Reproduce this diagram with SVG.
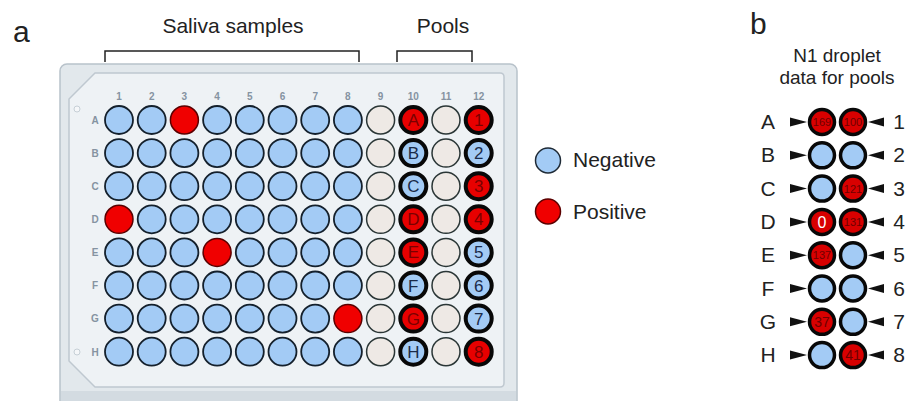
<svg xmlns="http://www.w3.org/2000/svg" width="909" height="401" viewBox="0 0 909 401">
<defs>
<style>
text{font-family:"Liberation Sans",Arial,sans-serif;}
.t{font-size:21px;fill:#222;}
.lab{font-size:10px;fill:#8593a1;font-weight:bold;text-anchor:middle;}
.n{fill:#a3cbf5;stroke:#14202c;stroke-width:1.8;}
.p{fill:#f00000;stroke:#5a0000;stroke-width:1.5;}
.e{fill:#eee9e5;stroke:#2a3636;stroke-width:1.5;}
.pr{fill:#e80000;stroke:#080808;stroke-width:4;}
.pb{fill:#a3cbf5;stroke:#080808;stroke-width:4;}
.wl{font-size:17px;text-anchor:middle;}
.wr{fill:#7a0000;}
.wb{fill:#1a2a48;}
.br{fill:none;stroke:#222;stroke-width:1.5;}
.bc{stroke:#080808;stroke-width:3.5;}
.bR{fill:#d80000;}
.bB{fill:#a3cbf5;}
.bn{font-size:11px;fill:#6e0000;text-anchor:middle;}
.ar{fill:#111;}
</style>
</defs>
<rect width="909" height="401" fill="#ffffff"/>
<!-- labels -->
<text class="t" x="13" y="42" style="font-size:30px">a</text>
<text class="t" x="233" y="33" text-anchor="middle">Saliva samples</text>
<text class="t" x="443" y="33" text-anchor="middle">Pools</text>
<path class="br" d="M105,62 V51 H359 V62"/>
<path class="br" d="M397,62 V51 H472 V62"/>
<!-- plate -->
<g id="plate">
<rect x="60" y="64" width="457" height="345" rx="7" fill="#e2e8ec" stroke="#b8c2ca" stroke-width="1.5"/>
<rect x="61" y="391" width="455" height="12" fill="#d3dbe1"/>
<path d="M95,73 H500 Q504,73 504,77 V383 Q504,387 500,387 H95 L69,361 V99 Z" fill="#eef2f5" stroke="#bfc8d0" stroke-width="1.5"/>
<circle cx="77" cy="109" r="3" fill="#f5f7f9" stroke="#c6cfd6"/>
<circle cx="77" cy="352" r="3" fill="#f5f7f9" stroke="#c6cfd6"/>
<g class="lab">
<text x="119" y="100">1</text><text x="151.7" y="100">2</text><text x="184.4" y="100">3</text><text x="217.1" y="100">4</text><text x="249.8" y="100">5</text><text x="282.5" y="100">6</text><text x="315.2" y="100">7</text><text x="347.9" y="100">8</text><text x="380.6" y="100">9</text><text x="413.3" y="100">10</text><text x="446" y="100">11</text><text x="478.7" y="100">12</text>
<text x="95" y="124">A</text><text x="95" y="157">B</text><text x="95" y="190">C</text><text x="95" y="223">D</text><text x="95" y="256">E</text><text x="95" y="289">F</text><text x="95" y="322">G</text><text x="95" y="356">H</text>
</g>
</g>
<g id="rowA">
<circle class="n" cx="119" cy="120" r="14"/><circle class="n" cx="151.7" cy="120" r="14"/><circle class="p" cx="184.4" cy="120" r="14"/><circle class="n" cx="217.1" cy="120" r="14"/><circle class="n" cx="249.8" cy="120" r="14"/><circle class="n" cx="282.5" cy="120" r="14"/><circle class="n" cx="315.2" cy="120" r="14"/><circle class="n" cx="347.9" cy="120" r="14"/><circle class="e" cx="380.6" cy="120" r="14"/><circle class="pr" cx="413.3" cy="120" r="13"/><circle class="e" cx="446" cy="120" r="14"/><circle class="pr" cx="478.7" cy="120" r="13"/>
<text class="wl wr" x="413.3" y="126">A</text><text class="wl wr" x="478.7" y="126">1</text>
</g>
<g id="rowB">
<circle class="n" cx="119" cy="153.1" r="14"/><circle class="n" cx="151.7" cy="153.1" r="14"/><circle class="n" cx="184.4" cy="153.1" r="14"/><circle class="n" cx="217.1" cy="153.1" r="14"/><circle class="n" cx="249.8" cy="153.1" r="14"/><circle class="n" cx="282.5" cy="153.1" r="14"/><circle class="n" cx="315.2" cy="153.1" r="14"/><circle class="n" cx="347.9" cy="153.1" r="14"/><circle class="e" cx="380.6" cy="153.1" r="14"/><circle class="pb" cx="413.3" cy="153.1" r="13"/><circle class="e" cx="446" cy="153.1" r="14"/><circle class="pb" cx="478.7" cy="153.1" r="13"/>
<text class="wl wb" x="413.3" y="159">B</text><text class="wl wb" x="478.7" y="159">2</text>
</g>
<g id="rowC">
<circle class="n" cx="119" cy="186.2" r="14"/><circle class="n" cx="151.7" cy="186.2" r="14"/><circle class="n" cx="184.4" cy="186.2" r="14"/><circle class="n" cx="217.1" cy="186.2" r="14"/><circle class="n" cx="249.8" cy="186.2" r="14"/><circle class="n" cx="282.5" cy="186.2" r="14"/><circle class="n" cx="315.2" cy="186.2" r="14"/><circle class="n" cx="347.9" cy="186.2" r="14"/><circle class="e" cx="380.6" cy="186.2" r="14"/><circle class="pb" cx="413.3" cy="186.2" r="13"/><circle class="e" cx="446" cy="186.2" r="14"/><circle class="pr" cx="478.7" cy="186.2" r="13"/>
<text class="wl wb" x="413.3" y="192">C</text><text class="wl wr" x="478.7" y="192">3</text>
</g>
<g id="rowD">
<circle class="p" cx="119" cy="219.3" r="14"/><circle class="n" cx="151.7" cy="219.3" r="14"/><circle class="n" cx="184.4" cy="219.3" r="14"/><circle class="n" cx="217.1" cy="219.3" r="14"/><circle class="n" cx="249.8" cy="219.3" r="14"/><circle class="n" cx="282.5" cy="219.3" r="14"/><circle class="n" cx="315.2" cy="219.3" r="14"/><circle class="n" cx="347.9" cy="219.3" r="14"/><circle class="e" cx="380.6" cy="219.3" r="14"/><circle class="pr" cx="413.3" cy="219.3" r="13"/><circle class="e" cx="446" cy="219.3" r="14"/><circle class="pr" cx="478.7" cy="219.3" r="13"/>
<text class="wl wr" x="413.3" y="225">D</text><text class="wl wr" x="478.7" y="225">4</text>
</g>
<g id="rowE">
<circle class="n" cx="119" cy="252.4" r="14"/><circle class="n" cx="151.7" cy="252.4" r="14"/><circle class="n" cx="184.4" cy="252.4" r="14"/><circle class="p" cx="217.1" cy="252.4" r="14"/><circle class="n" cx="249.8" cy="252.4" r="14"/><circle class="n" cx="282.5" cy="252.4" r="14"/><circle class="n" cx="315.2" cy="252.4" r="14"/><circle class="n" cx="347.9" cy="252.4" r="14"/><circle class="e" cx="380.6" cy="252.4" r="14"/><circle class="pr" cx="413.3" cy="252.4" r="13"/><circle class="e" cx="446" cy="252.4" r="14"/><circle class="pb" cx="478.7" cy="252.4" r="13"/>
<text class="wl wr" x="413.3" y="258">E</text><text class="wl wb" x="478.7" y="258">5</text>
</g>
<g id="rowF">
<circle class="n" cx="119" cy="285.5" r="14"/><circle class="n" cx="151.7" cy="285.5" r="14"/><circle class="n" cx="184.4" cy="285.5" r="14"/><circle class="n" cx="217.1" cy="285.5" r="14"/><circle class="n" cx="249.8" cy="285.5" r="14"/><circle class="n" cx="282.5" cy="285.5" r="14"/><circle class="n" cx="315.2" cy="285.5" r="14"/><circle class="n" cx="347.9" cy="285.5" r="14"/><circle class="e" cx="380.6" cy="285.5" r="14"/><circle class="pb" cx="413.3" cy="285.5" r="13"/><circle class="e" cx="446" cy="285.5" r="14"/><circle class="pb" cx="478.7" cy="285.5" r="13"/>
<text class="wl wb" x="413.3" y="291.5">F</text><text class="wl wb" x="478.7" y="291.5">6</text>
</g>
<g id="rowG">
<circle class="n" cx="119" cy="318.6" r="14"/><circle class="n" cx="151.7" cy="318.6" r="14"/><circle class="n" cx="184.4" cy="318.6" r="14"/><circle class="n" cx="217.1" cy="318.6" r="14"/><circle class="n" cx="249.8" cy="318.6" r="14"/><circle class="n" cx="282.5" cy="318.6" r="14"/><circle class="n" cx="315.2" cy="318.6" r="14"/><circle class="p" cx="347.9" cy="318.6" r="14"/><circle class="e" cx="380.6" cy="318.6" r="14"/><circle class="pr" cx="413.3" cy="318.6" r="13"/><circle class="e" cx="446" cy="318.6" r="14"/><circle class="pb" cx="478.7" cy="318.6" r="13"/>
<text class="wl wr" x="413.3" y="324.6">G</text><text class="wl wb" x="478.7" y="324.6">7</text>
</g>
<g id="rowH">
<circle class="n" cx="119" cy="351.7" r="14"/><circle class="n" cx="151.7" cy="351.7" r="14"/><circle class="n" cx="184.4" cy="351.7" r="14"/><circle class="n" cx="217.1" cy="351.7" r="14"/><circle class="n" cx="249.8" cy="351.7" r="14"/><circle class="n" cx="282.5" cy="351.7" r="14"/><circle class="n" cx="315.2" cy="351.7" r="14"/><circle class="n" cx="347.9" cy="351.7" r="14"/><circle class="e" cx="380.6" cy="351.7" r="14"/><circle class="pb" cx="413.3" cy="351.7" r="13"/><circle class="e" cx="446" cy="351.7" r="14"/><circle class="pr" cx="478.7" cy="351.7" r="13"/>
<text class="wl wb" x="413.3" y="357.7">H</text><text class="wl wr" x="478.7" y="357.7">8</text>
</g>
<!-- legend -->
<g id="legend-negative">
<circle cx="548" cy="160.5" r="12.5" fill="#a3cbf5" stroke="#1e2a36" stroke-width="1.5"/>
<text class="t" x="573" y="167">Negative</text>
</g>
<g id="legend-positive">
<circle cx="548" cy="211.5" r="12.5" fill="#f00000" stroke="#5a0000" stroke-width="1.5"/>
<text class="t" x="573" y="218.5">Positive</text>
</g>
<!-- panel b -->
<text class="t" x="750" y="34" style="font-size:30px">b</text>
<text class="t" x="837" y="62" text-anchor="middle" style="font-size:19px">N1 droplet</text>
<text class="t" x="837" y="84" text-anchor="middle" style="font-size:19px">data for pools</text>
<g id="b-labels" class="t" text-anchor="middle">
<text x="768" y="129">A</text><text x="768" y="162.3">B</text><text x="768" y="195.6">C</text><text x="768" y="228.9">D</text><text x="768" y="262.2">E</text><text x="768" y="295.5">F</text><text x="768" y="328.8">G</text><text x="768" y="362.1">H</text>
<text x="899" y="129">1</text><text x="899" y="162.3">2</text><text x="899" y="195.6">3</text><text x="899" y="228.9">4</text><text x="899" y="262.2">5</text><text x="899" y="295.5">6</text><text x="899" y="328.8">7</text><text x="899" y="362.1">8</text>
</g>
<g id="connectors" class="ar">
<polygon points="790,117.5 807,122 790,126.5"/><polygon points="790,150.8 807,155.3 790,159.8"/><polygon points="790,184.1 807,188.6 790,193.1"/><polygon points="790,217.4 807,221.9 790,226.4"/><polygon points="790,250.7 807,255.2 790,259.7"/><polygon points="790,284 807,288.5 790,293"/><polygon points="790,317.3 807,321.8 790,326.3"/><polygon points="790,350.6 807,355.1 790,359.6"/>
<polygon points="884,117.5 868,122 884,126.5"/><polygon points="884,150.8 868,155.3 884,159.8"/><polygon points="884,184.1 868,188.6 884,193.1"/><polygon points="884,217.4 868,221.9 884,226.4"/><polygon points="884,250.7 868,255.2 884,259.7"/><polygon points="884,284 868,288.5 884,293"/><polygon points="884,317.3 868,321.8 884,326.3"/><polygon points="884,350.6 868,355.1 884,359.6"/>
</g>
<g id="b-poolA1">
<circle class="bc bR" cx="822" cy="122" r="12.5"/><circle class="bc bR" cx="853" cy="122" r="12.5"/>
<text class="bn" x="822" y="126">169</text><text class="bn" x="853" y="126">100</text>
</g>
<g id="b-poolB2">
<circle class="bc bB" cx="822" cy="155.3" r="12.5"/><circle class="bc bB" cx="853" cy="155.3" r="12.5"/>
</g>
<g id="b-poolC3">
<circle class="bc bB" cx="822" cy="188.6" r="12.5"/><circle class="bc bR" cx="853" cy="188.6" r="12.5"/>
<text class="bn" x="853" y="192.6">121</text>
</g>
<g id="b-poolD4">
<circle class="bc bR" cx="822" cy="221.9" r="12.5"/><circle class="bc bR" cx="853" cy="221.9" r="12.5"/>
<text x="822" y="227.5" text-anchor="middle" style="font-size:16px;fill:#ffffff">0</text><text class="bn" x="853" y="225.9">131</text>
</g>
<g id="b-poolE5">
<circle class="bc bR" cx="822" cy="255.2" r="12.5"/><circle class="bc bB" cx="853" cy="255.2" r="12.5"/>
<text class="bn" x="822" y="259.2">137</text>
</g>
<g id="b-poolF6">
<circle class="bc bB" cx="822" cy="288.5" r="12.5"/><circle class="bc bB" cx="853" cy="288.5" r="12.5"/>
</g>
<g id="b-poolG7">
<circle class="bc bR" cx="822" cy="321.8" r="12.5"/><circle class="bc bB" cx="853" cy="321.8" r="12.5"/>
<text class="bn" x="822" y="326.8" style="font-size:14px">37</text>
</g>
<g id="b-poolH8">
<circle class="bc bB" cx="822" cy="355.1" r="12.5"/><circle class="bc bR" cx="853" cy="355.1" r="12.5"/>
<text class="bn" x="853" y="360.1" style="font-size:14px">41</text>
</g>
</svg>
